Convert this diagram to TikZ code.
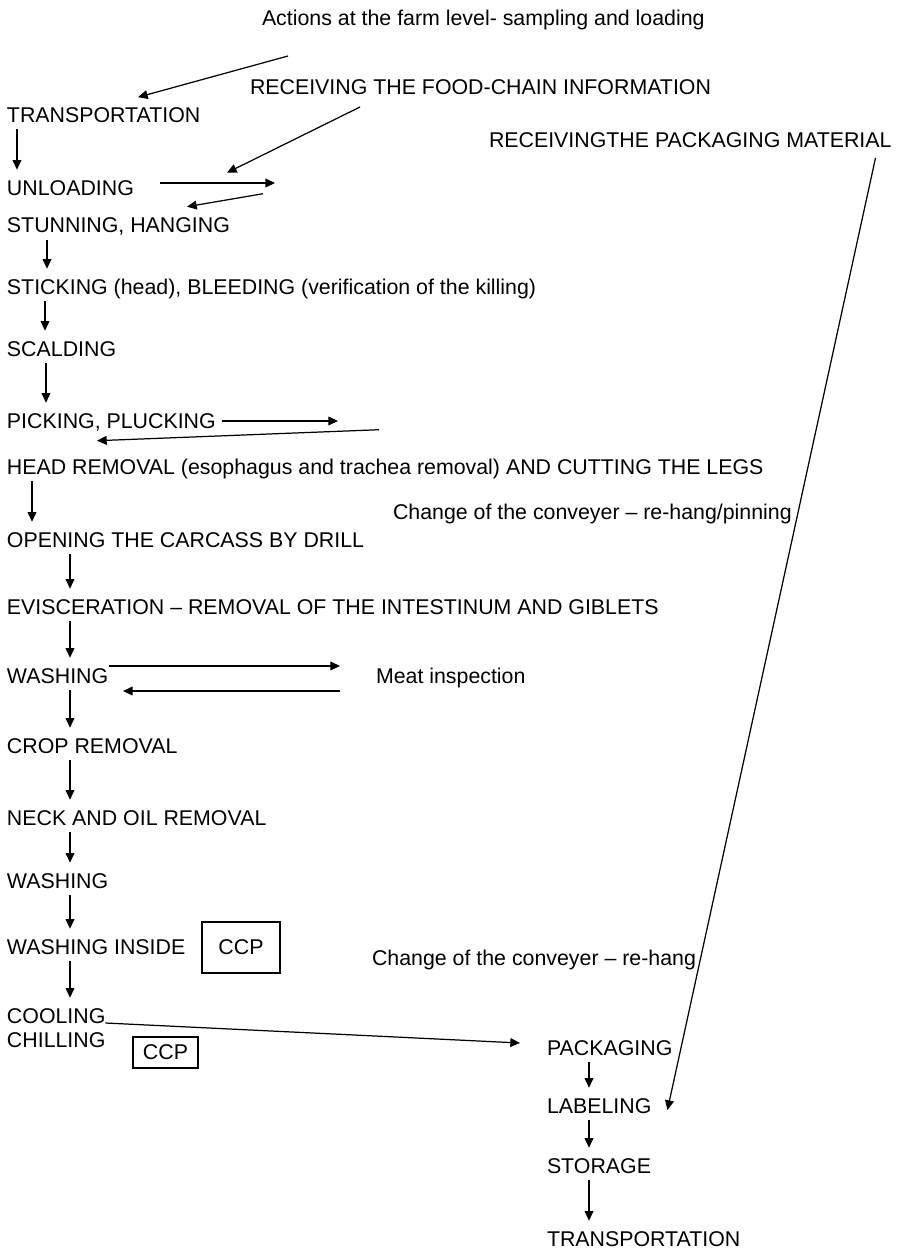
\documentclass[tikz,border=0pt]{standalone}
\usepackage{fontspec}
\setmainfont{Liberation Sans}
\usetikzlibrary{arrows.meta, positioning}

\begin{document}
\begin{tikzpicture}[
  x=0.02cm, y=-0.02cm,
  font=\fontsize{12.15pt}{14pt}\selectfont,
  fase/.style={inner sep=0pt, outer sep=0pt, text height=8.7pt, text depth=0pt,
               anchor=base west},
  riquadro/.style={draw=black, line width=0.8pt, inner sep=0pt},
  linea/.style={draw=black, line width=0.7pt},
  freccia/.style={linea, -{Triangle[length=5.5pt,width=5pt]}}
]
\useasboundingbox (0,0) rectangle (904,1250);

% colonna principale
\node[fase] (farm)  at (262,26)   {Actions at the farm level- sampling and loading};
\node[fase] (info)  at (250,94.5) {RECEIVING THE FOOD-CHAIN INFORMATION};
\node[fase] (tr1)   at (7,122.5)  {TRANSPORTATION};
\node[fase] (mat)   at (489,148)  {RECEIVINGTHE PACKAGING MATERIAL};
\node[fase] (unl)   at (7,195)    {UNLOADING};
\node[fase] (stun)  at (7,233)    {STUNNING, HANGING};
\node[fase] (stick) at (7,294)    {STICKING (head), BLEEDING (verification of the killing)};
\node[fase] (scald) at (7,356)    {SCALDING};
\node[fase] (pick)  at (7,428)    {PICKING, PLUCKING};
\node[fase] (head)  at (7,474)    {HEAD REMOVAL (esophagus and trachea removal) AND CUTTING THE LEGS};
\node[fase] (pin)   at (393,519)  {Change of the conveyer – re-hang/pinning};
\node[fase] (open)  at (7,547)    {OPENING THE CARCASS BY DRILL};
\node[fase] (evis)  at (7,614)    {EVISCERATION – REMOVAL OF THE INTESTINUM AND GIBLETS};
\node[fase] (wash1) at (7,683)    {WASHING};
\node[fase] (meat)  at (376,683)  {Meat inspection};
\node[fase] (crop)  at (7,753)    {CROP REMOVAL};
\node[fase] (neck)  at (7,825)    {NECK AND OIL REMOVAL};
\node[fase] (wash2) at (7,888)    {WASHING};
\node[fase] (wins)  at (7,954)    {WASHING INSIDE};
\node[riquadro, minimum width=78*0.02cm, minimum height=51*0.02cm] (ccpA) at (241,947.5) {CCP};
\node[fase] (rehang) at (372,965) {Change of the conveyer – re-hang};
\node[fase] (cool)  at (7,1023)   {COOLING};
\node[fase] (chill) at (7,1047)   {CHILLING};
\node[riquadro, minimum width=65*0.02cm, minimum height=31*0.02cm] (ccpB) at (165.5,1052.5) {CCP};

% colonna destra
\node[fase] (pack)  at (547,1055) {PACKAGING};
\node[fase] (lab)   at (547,1113) {LABELING};
\node[fase] (stor)  at (547,1173) {STORAGE};
\node[fase] (tr2)   at (547,1246) {TRANSPORTATION};

% frecce verticali
\foreach \a/\b/\x in {tr1/unl/10, stun/stick/40, stick/scald/38, scald/pick/39,
                      head/open/25, open/evis/63, evis/wash1/63, wash1/crop/63,
                      crop/neck/63, neck/wash2/63, wash2/wins/63, wins/cool/63,
                      pack/lab/42, lab/stor/42, stor/tr2/42} {
  \draw[freccia] ([shift={(\x,7)}]\a.south west) -- ([shift={(\x,-10)}]\b.north west);
}

% frecce laterali
\draw[freccia] ([shift={(26,30)}]farm.south west) -- ([shift={(131,-10)}]tr1.north west);
\draw[freccia] ([shift={(110,12.5)}]info.south west) -- ([shift={(220,-7)}]unl.north west);
\draw[freccia] ([shift={(153,-12)}]unl.south west) -- ([shift={(268,-12)}]unl.south west);
\draw[freccia] ([shift={(256,-24)}]stun.north west) -- ([shift={(180,-11)}]stun.north west);
\draw[freccia] ([shift={(215,-7)}]pick.south west) -- ([shift={(331,-7)}]pick.south west);
\draw[freccia] ([shift={(372,-29)}]head.north west) -- ([shift={(90,-18)}]head.north west);
\draw[freccia] ([shift={(102,-17)}]wash1.south west) -- ([shift={(-36,-17)}]meat.south west);
\draw[freccia] ([shift={(-36,8)}]meat.south west) -- ([shift={(116,8)}]wash1.south west);
\draw[freccia] (cool.south east) -- ([shift={(-27,-12)}]pack.south west);
\draw[freccia] ([shift={(-16,10)}]mat.south east) -- ([shift={(16,-3)}]lab.south east);

\end{tikzpicture}
\end{document}
